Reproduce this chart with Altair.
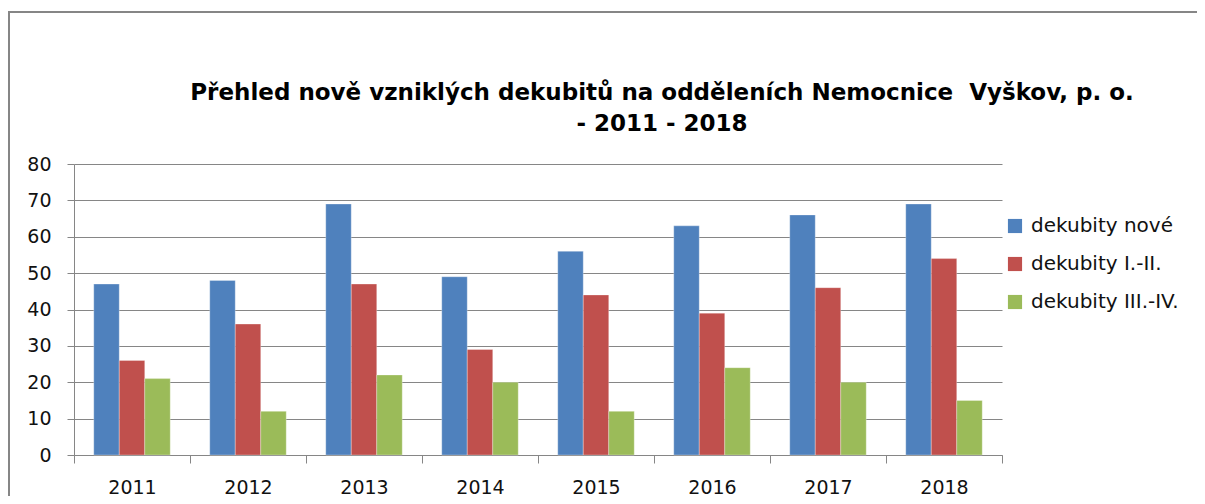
import altair as alt
import pandas as pd

years = ["2011", "2012", "2013", "2014", "2015", "2016", "2017", "2018"]
series = ["dekubity nové", "dekubity I.-II.", "dekubity III.-IV."]
nove = [47, 48, 69, 49, 56, 63, 66, 69]
st12 = [26, 36, 47, 29, 44, 39, 46, 54]
st34 = [21, 12, 22, 20, 12, 24, 20, 15]
colors = ["#4F81BD", "#C0504D", "#9BBB59"]
title_lines = ["Přehled nově vzniklých dekubitů na odděleních Nemocnice\u00a0 Vyškov, p. o.",
               "- 2011 - 2018"]

rows = []
for i, y in enumerate(years):
    for s, vals in zip(series, [nove, st12, st34]):
        rows.append({"rok": y, "serie": s, "hodnota": vals[i]})
df = pd.DataFrame(rows)

W, H = 928, 291
GRAY = "#868686"
FONT = "DejaVu Sans"

bars = alt.Chart(df).mark_bar(stroke="white", strokeWidth=0.5, strokeOpacity=0.6).encode(
    x=alt.X("rok:N", sort=years,
            scale=alt.Scale(paddingInner=0, paddingOuter=0),
            axis=alt.Axis(title=None, labelAngle=0, tickBand="extent", tickSize=8,
                          tickColor=GRAY, domainColor=GRAY, labelPadding=15,
                          labelFont=FONT, labelFontSize=19, labelColor="#111111", grid=False)),
    xOffset=alt.XOffset("serie:N", sort=series,
                        scale=alt.Scale(paddingInner=0, paddingOuter=0.775)),
    y=alt.Y("hodnota:Q", scale=alt.Scale(domain=[0, 80], nice=False),
            axis=alt.Axis(title=None, values=list(range(0, 81, 10)), tickSize=7,
                          tickColor=GRAY, domainColor=GRAY, gridColor=GRAY, grid=True,
                          labelPadding=16, labelFont=FONT, labelFontSize=19,
                          labelColor="#111111")),
    color=alt.Color("serie:N", sort=series,
                    scale=alt.Scale(domain=series, range=colors),
                    legend=alt.Legend(title=None, orient="none", legendX=931, legendY=52,
                                      symbolType="square", symbolSize=200,
                                      symbolStrokeWidth=0, labelFont=FONT,
                                      labelFontSize=20, labelColor="#111111",
                                      rowPadding=18, labelOffset=6)),
)

border = alt.Chart(pd.DataFrame({"k": [0]})).mark_rect(
    fill=None, stroke=GRAY, strokeWidth=2
).encode(
    x=alt.value(-65), x2=alt.value(1300), y=alt.value(-152), y2=alt.value(400)
)

chart = alt.layer(bars, border).properties(
    width=W, height=H,
    title=alt.TitleParams(text=title_lines, anchor="middle", dx=124, dy=125, offset=0,
                          font="DejaVu Sans", fontSize=23, fontWeight="bold",
                          lineHeight=31, color="#000000"),
    autosize=alt.AutoSizeParams(type="none"),
    padding={"left": 66, "top": 156, "right": 195, "bottom": 41},
).configure_view(stroke=None).configure_axis(domainWidth=1, tickWidth=1, gridWidth=1)

chart.save("out.html", embed_options={"renderer": "svg", "actions": False})
